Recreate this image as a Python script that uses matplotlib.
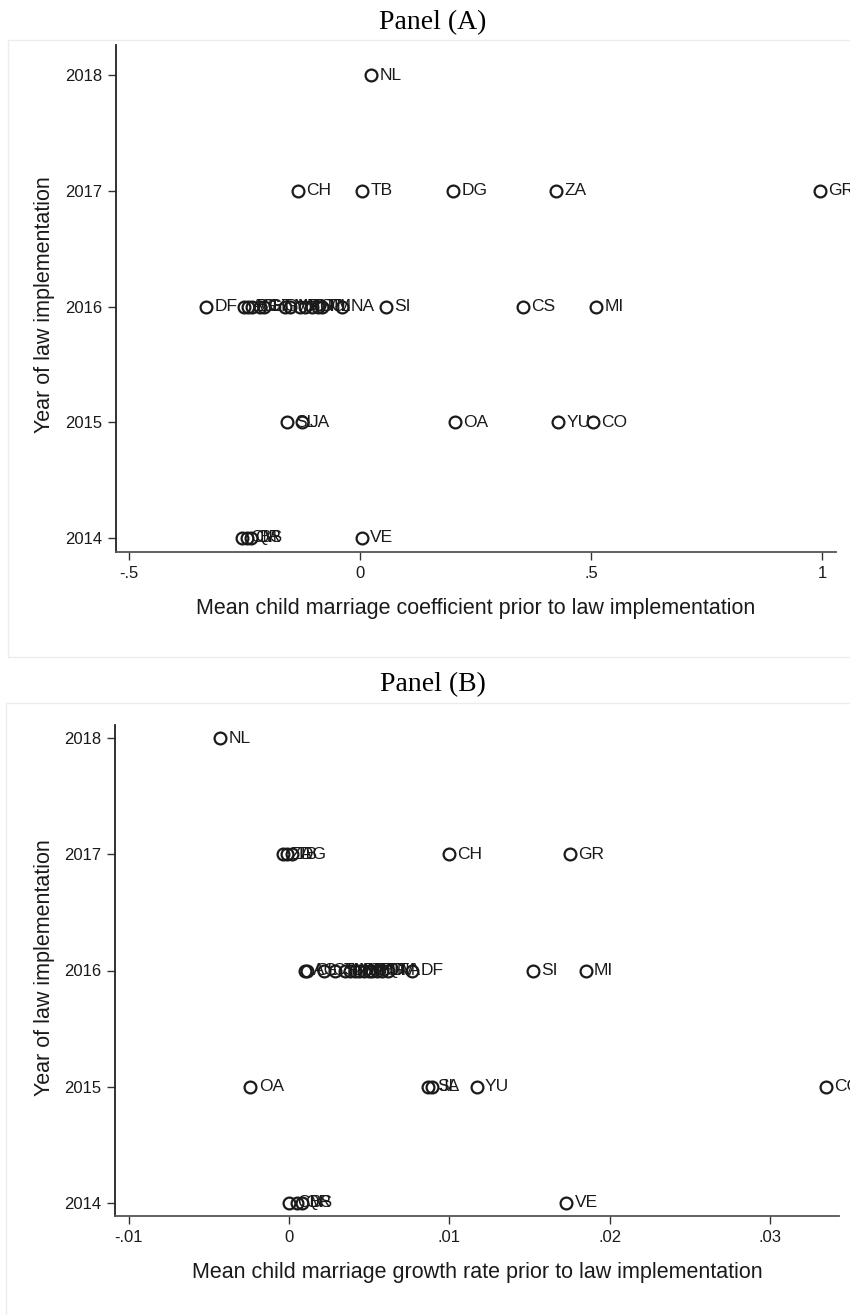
import matplotlib
matplotlib.use("Agg")
import matplotlib.pyplot as plt
from matplotlib.patches import Rectangle
from matplotlib.transforms import Affine2D

# State codes, year of law implementation and the two x-measures
states = ["NL",
          "CH", "TB", "DG", "ZA", "GR",
          "DF", "AG", "BC", "CL", "GT", "HG", "MX", "MO", "PU", "QT", "SO",
          "TM", "TL", "NA", "SI", "CS", "MI",
          "SL", "JA", "OA", "YU", "CO",
          "CM", "QR", "BS", "VE"]
years = [2018,
         2017, 2017, 2017, 2017, 2017,
         2016, 2016, 2016, 2016, 2016, 2016, 2016, 2016, 2016, 2016, 2016,
         2016, 2016, 2016, 2016, 2016, 2016,
         2015, 2015, 2015, 2015, 2015,
         2014, 2014, 2014, 2014]
# Panel (A): mean child marriage coefficient prior to law
coef = [0.024,
        -0.134, 0.004, 0.201, 0.424, 0.996,
        -0.333, -0.251, -0.242, -0.234, -0.216, -0.208, -0.162, -0.152,
        -0.130, -0.119, -0.104, -0.091, -0.082, -0.039, 0.056, 0.353, 0.511,
        -0.158, -0.126, 0.206, 0.429, 0.504,
        -0.255, -0.245, -0.236, 0.004]
# Panel (B): mean child marriage growth rate prior to law
growth = [-0.0043,
          0.0100, -0.0001, 0.0002, -0.0004, 0.0175,
          0.0077, 0.0010, 0.0041, 0.0011, 0.0047, 0.0050, 0.0035, 0.0038,
          0.0052, 0.0055, 0.0044, 0.0058, 0.0029, 0.0062, 0.0152, 0.0022, 0.0185,
          0.0087, 0.0089, -0.0024, 0.0117, 0.0335,
          0.0000, 0.0005, 0.0008, 0.0173]

year_ticks = [2014, 2015, 2016, 2017, 2018]
ticks_a = [-0.5, 0, 0.5, 1]
ticklabels_a = ["-.5", "0", ".5", "1"]
ticks_b = [-0.01, 0, 0.01, 0.02, 0.03]
ticklabels_b = ["-.01", "0", ".01", ".02", ".03"]

W, H = 850, 1315
SANS = ["Liberation Sans", "DejaVu Sans"]
SERIF = ["Liberation Serif", "DejaVu Serif"]

fig = plt.figure(figsize=(W / 100, H / 100), dpi=100)
fig.patch.set_facecolor("white")

# pixel -> figure transform (origin top left)
px = Affine2D().scale(1 / W, -1 / H).translate(0, 1) + fig.transFigure


def panel(rect, xvals, xlim, ylim, ticks, ticklabels, xlabel, ylab_y):
    left, top, right, bottom = rect
    ax = fig.add_axes([left / W, 1 - bottom / H, (right - left) / W,
                       (bottom - top) / H])
    ax.set_facecolor("white")
    ax.plot(xvals, years, linestyle="none", marker="o", markersize=8.5,
            markerfacecolor="none", markeredgecolor="#1a1a1a",
            markeredgewidth=1.6, clip_on=False)
    for s, x, y in zip(states, xvals, years):
        ax.annotate(s, (x, y), xytext=(6, 0), textcoords="offset points",
                    va="center", ha="left", fontsize=12.5, family=SANS,
                    color="#1a1a1a", annotation_clip=False)
    ax.set_xlim(*xlim)
    ax.set_ylim(*ylim)
    ax.set_xticks(ticks)
    ax.set_xticklabels(ticklabels)
    ax.set_yticks(year_ticks)
    ax.set_yticklabels([str(y) for y in year_ticks])
    for lab in ax.get_xticklabels() + ax.get_yticklabels():
        lab.set_family(SANS)
        lab.set_fontsize(12)
        lab.set_color("#1a1a1a")
    ax.tick_params(direction="out", length=6, width=1, color="#333333", pad=4)
    for side in ["top", "right"]:
        ax.spines[side].set_visible(False)
    ax.spines["left"].set_color("#222222")
    ax.spines["bottom"].set_color("#555555")
    ax.spines["left"].set_linewidth(1.3)
    ax.spines["bottom"].set_linewidth(1.3)
    ax.set_xlabel(xlabel, fontsize=15.5, family=SANS, color="#1a1a1a",
                  labelpad=12)
    fig.text(45, ylab_y, "Year of law implementation", transform=px,
             rotation=90, ha="center", va="center", fontsize=15.5,
             family=SANS, color="#1a1a1a")
    return ax


# graph region outlines
fig.patches.append(Rectangle((8, 40), 845, 617, transform=px, fill=False,
                             edgecolor="#ececec", linewidth=1))
fig.patches.append(Rectangle((6, 703), 850, 620, transform=px, fill=False,
                             edgecolor="#ececec", linewidth=1))

fig.text(433, 23, "Panel (A)", transform=px, ha="center", va="center",
         fontsize=20, family=SERIF)
fig.text(433, 685, "Panel (B)", transform=px, ha="center", va="center",
         fontsize=20, family=SERIF)

panel((116, 45, 836, 552), coef, (-0.528, 1.030), (2013.879, 2018.26),
      ticks_a, ticklabels_a,
      "Mean child marriage coefficient prior to law implementation", 305)
panel((115, 725, 839, 1216), growth, (-0.01085, 0.03431), (2013.888, 2018.112),
      ticks_b, ticklabels_b,
      "Mean child marriage growth rate prior to law implementation", 968)

fig.savefig("out.png", dpi=100, facecolor="white")
